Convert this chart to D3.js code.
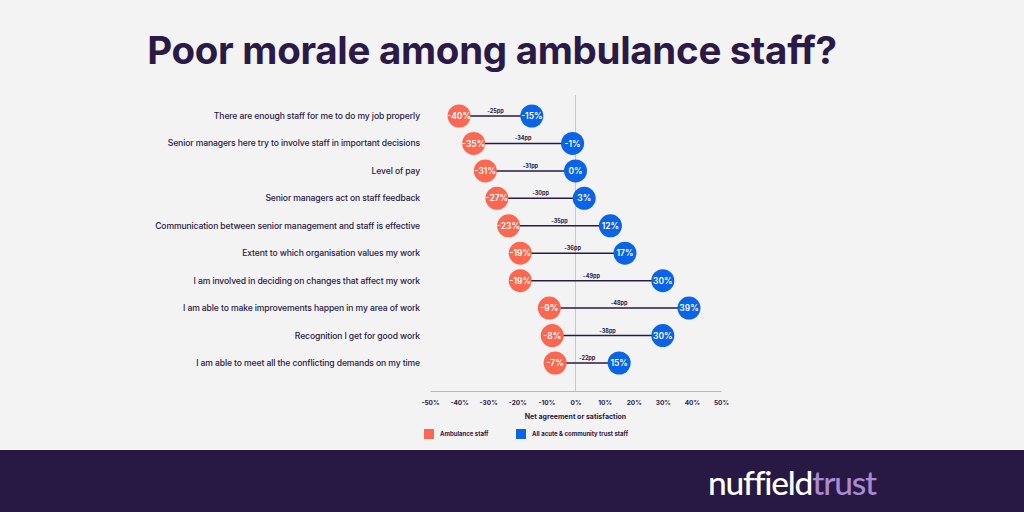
<!DOCTYPE html>
<html><head><meta charset="utf-8">
<script src="https://cdn.jsdelivr.net/npm/d3@7"></script>
<style>html,body{margin:0;padding:0;background:#f3f3f4;}svg{display:block;}</style>
</head><body>
<script>
const categories = [
  "There are enough staff for me to do my job properly",
  "Senior managers here try to involve staff in important decisions",
  "Level of pay",
  "Senior managers act on staff feedback",
  "Communication between senior management and staff is effective",
  "Extent to which organisation values my work",
  "I am involved in deciding on changes that affect my work",
  "I am able to make improvements happen in my area of work",
  "Recognition I get for good work",
  "I am able to meet all the conflicting demands on my time"
];
const ambulance = [-40, -35, -31, -27, -23, -19, -19, -9, -8, -7];
const acute = [-15, -1, 0, 3, 12, 17, 30, 39, 30, 15];
const gapLabels = ["-25pp", "-34pp", "-31pp", "-30pp", "-35pp", "-36pp", "-49pp", "-48pp", "-38pp", "-22pp"];
const ticks = [-50, -40, -30, -20, -10, 0, 10, 20, 30, 40, 50];
const seriesNames = ["Ambulance staff", "All acute & community trust staff"];

const W = 1024, H = 512;
const orange = "#fb6851", blue = "#0b63e5", dark = "#2a1a45";
const svg = d3.select("body").append("svg").attr("width", W).attr("height", H);
svg.append("rect").attr("width", W).attr("height", H).attr("fill", "#f3f3f4");

svg.append("text").attr("x", 492).attr("y", 64).attr("text-anchor", "middle")
  .attr("font-family", "Inter, 'Open Sans', sans-serif").attr("font-weight", 700)
  .attr("font-size", 38.5).attr("fill", dark).attr("letter-spacing", "-0.3")
  .text("Poor morale among ambulance staff?");

const x = d3.scaleLinear().domain([-50, 50]).range([430, 721]);
const y = d3.scalePoint().domain(categories).range([116, 363]);

// zero line
svg.append("line").attr("x1", x(0)).attr("x2", x(0)).attr("y1", 95).attr("y2", 391)
  .attr("stroke", "#c8c8cc").attr("stroke-width", 1);

// axis
const axisG = svg.append("g").attr("transform", "translate(0,391)")
  .call(d3.axisBottom(x).tickValues(ticks).tickSize(0).tickPadding(9).tickFormat(d => d + "%"));
axisG.select(".domain").attr("stroke", "#b8b8bd");
axisG.selectAll("text").attr("font-family", "Inter, sans-serif").attr("font-weight", 700)
  .attr("font-size", 6.5).attr("fill", dark);

svg.append("text").attr("x", x(0)).attr("y", 419).attr("text-anchor", "middle")
  .attr("font-family", "Inter, sans-serif").attr("font-weight", 700).attr("font-size", 7)
  .attr("fill", dark).text("Net agreement or satisfaction");

// category labels
svg.append("g").selectAll("text").data(categories).join("text")
  .attr("x", 420).attr("y", d => y(d)).attr("dy", "0.35em").attr("text-anchor", "end")
  .attr("font-family", "Inter, sans-serif").attr("font-size", 8.6).attr("fill", dark)
  .attr("font-weight", 500).attr("letter-spacing", "-0.12")
  .text(d => d);

const rows = categories.map((c, i) => ({c, a: ambulance[i], b: acute[i], g: gapLabels[i]}));
const rg = svg.append("g").selectAll("g").data(rows).join("g");
rg.append("line").attr("x1", d => x(d.a)).attr("x2", d => x(d.b))
  .attr("y1", d => y(d.c)).attr("y2", d => y(d.c)).attr("stroke", dark).attr("stroke-width", 1.5);
rg.append("text").attr("x", d => (x(d.a) + x(d.b)) / 2).attr("y", d => y(d.c) - 3)
  .attr("text-anchor", "middle").attr("font-family", "Inter, sans-serif").attr("font-weight", 700)
  .attr("font-size", 5.5).attr("fill", dark).text(d => d.g);
rg.append("circle").attr("cx", d => x(d.a)).attr("cy", d => y(d.c)).attr("r", 11.5).attr("fill", orange);
rg.append("circle").attr("cx", d => x(d.b)).attr("cy", d => y(d.c)).attr("r", 11.5).attr("fill", blue);
rg.append("text").attr("x", d => x(d.a)).attr("y", d => y(d.c)).attr("dy", "0.36em")
  .attr("text-anchor", "middle").attr("font-family", "Inter, sans-serif").attr("font-weight", 600)
  .attr("font-size", 8.5).attr("fill", "#fff").text(d => d.a + "%");
rg.append("text").attr("x", d => x(d.b)).attr("y", d => y(d.c)).attr("dy", "0.36em")
  .attr("text-anchor", "middle").attr("font-family", "Inter, sans-serif").attr("font-weight", 600)
  .attr("font-size", 8.5).attr("fill", "#fff").text(d => d.b + "%");

// legend
const leg = [{n: seriesNames[0], c: orange, x: 424}, {n: seriesNames[1], c: blue, x: 516}];
const lg = svg.append("g").selectAll("g").data(leg).join("g");
lg.append("rect").attr("x", d => d.x).attr("y", 429).attr("width", 10).attr("height", 10).attr("fill", d => d.c);
lg.append("text").attr("x", d => d.x + 16).attr("y", 434).attr("dy", "0.35em")
  .attr("font-family", "Inter, sans-serif").attr("font-weight", 700).attr("font-size", 6)
  .attr("fill", dark).text(d => d.n);

// footer
svg.append("rect").attr("x", 0).attr("y", 450).attr("width", W).attr("height", 62).attr("fill", "#271844");
const logo = svg.append("text").attr("x", 708).attr("y", 495)
  .attr("font-family", "Lato, Inter, sans-serif").attr("font-size", 33.5).attr("font-weight", 500)
  .attr("letter-spacing", "-1.2");
logo.append("tspan").attr("fill", "#ffffff").text("nuffield");
logo.append("tspan").attr("fill", "#a98bd2").text("trust");
</script>
</body></html>
